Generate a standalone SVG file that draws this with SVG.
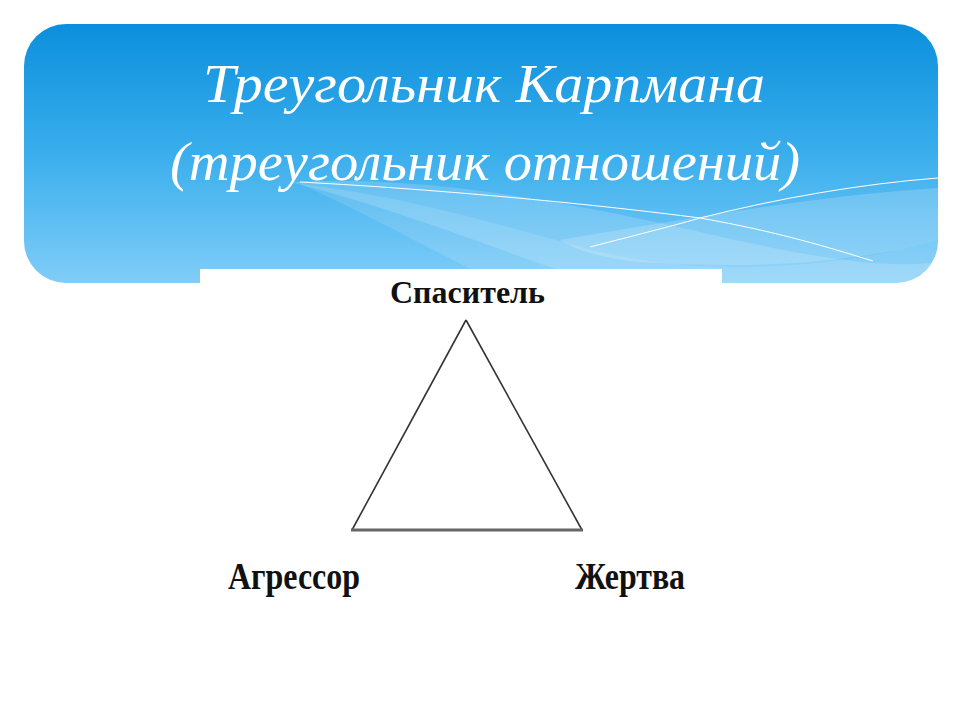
<svg xmlns="http://www.w3.org/2000/svg" width="960" height="720" viewBox="0 0 960 720">
<defs>
<linearGradient id="bg" x1="0" y1="0" x2="0" y2="1">
<stop offset="0" stop-color="#0b8fdc"/>
<stop offset="0.5" stop-color="#3aaeec"/>
<stop offset="1" stop-color="#80cdf8"/>
</linearGradient>
<clipPath id="hc"><rect x="24" y="24" width="914" height="259" rx="42" ry="42"/></clipPath>
</defs>
<style>
.title{font-family:"Liberation Serif","DejaVu Serif",serif;font-style:italic;font-size:54px;fill:#ffffff;text-anchor:middle}
.lbl{font-family:"Liberation Serif","DejaVu Serif",serif;font-weight:bold;fill:#111111}
.wave{fill:#ffffff}
.wl{fill:none;stroke:#ffffff;stroke-width:1}
</style>
<rect width="960" height="720" fill="#ffffff"/>
<g id="header">
<rect x="24" y="24" width="914" height="259" rx="42" ry="42" fill="url(#bg)"/>
<g clip-path="url(#hc)">
<path class="wave" opacity="0.16" d="M290,182 C420,175 560,200 700,232 C800,255 880,270 940,262 L940,283 L600,283 C520,260 420,215 290,182 Z"/>
<path class="wave" opacity="0.18" d="M560,240 C680,220 820,195 940,188 L940,240 C860,262 760,270 640,262 C600,258 575,250 560,240 Z"/>
<path class="wave" opacity="0.12" d="M300,184 C400,195 500,225 600,252 C700,275 820,272 940,240 L940,283 L500,283 C430,250 360,210 300,184 Z"/>
<path class="wl" d="M300,182 C450,190 600,205 700,218 C780,232 830,248 873,261"/>
<path class="wl" d="M590,247 C640,234 680,224 700,218 C780,198 860,184 938,178"/>
</g>
<rect x="200" y="269" width="522" height="20" fill="#ffffff"/>
<text class="title" x="484" y="102" textLength="562" lengthAdjust="spacingAndGlyphs">Треугольник Карпмана</text>
<text class="title" x="485" y="180" textLength="630" lengthAdjust="spacingAndGlyphs">(треугольник отношений)</text>
</g>
<g id="connectors">
<line x1="466" y1="320" x2="352" y2="530" stroke="#333" stroke-width="1.6"/>
<line x1="466" y1="320" x2="582" y2="530" stroke="#333" stroke-width="1.6"/>
<line x1="351" y1="530" x2="583" y2="530" stroke="#666" stroke-width="3"/>
</g>
<g id="node-saviour"><text class="lbl" x="390" y="303" font-size="32" textLength="155" lengthAdjust="spacingAndGlyphs">Спаситель</text></g>
<g id="node-aggressor"><text class="lbl" x="228" y="589" font-size="38" textLength="132" lengthAdjust="spacingAndGlyphs">Агрессор</text></g>
<g id="node-victim"><text class="lbl" x="575" y="589" font-size="38" textLength="110" lengthAdjust="spacingAndGlyphs">Жертва</text></g>
</svg>
